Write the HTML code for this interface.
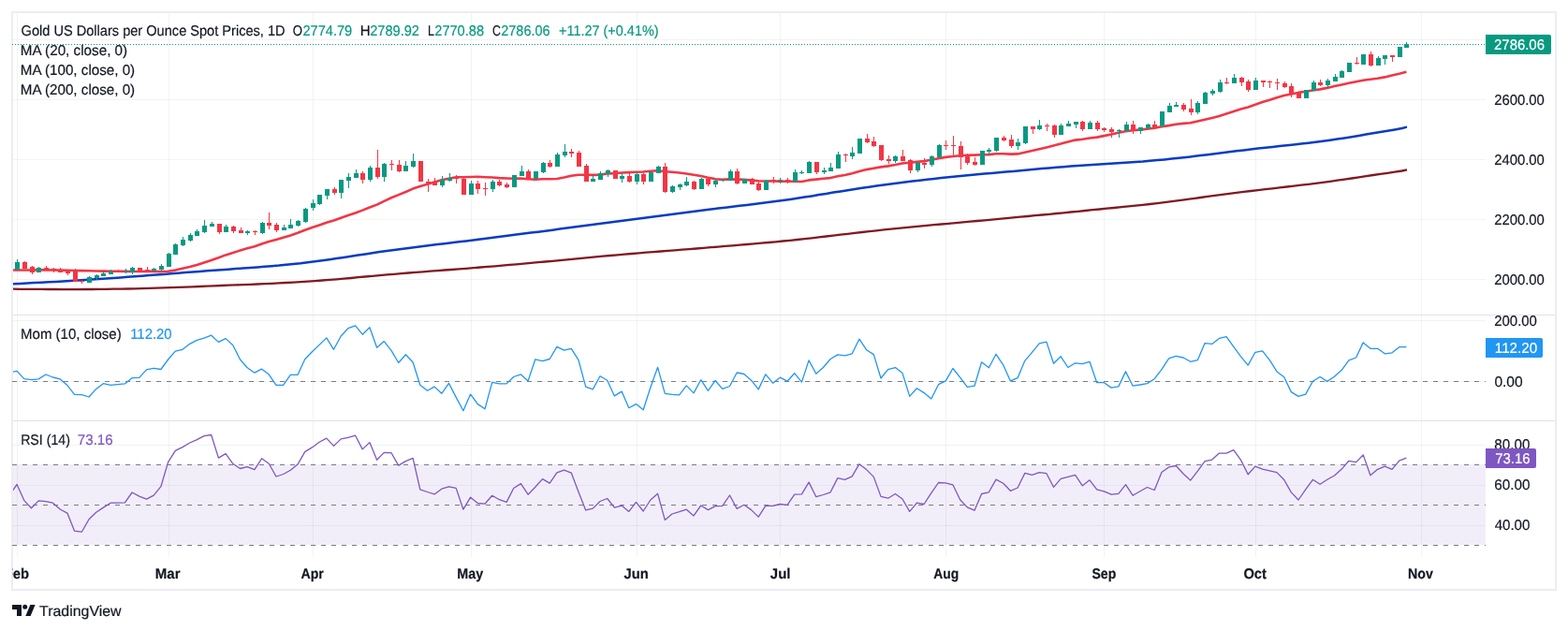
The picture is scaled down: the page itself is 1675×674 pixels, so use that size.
<!DOCTYPE html>
<html><head><meta charset="utf-8"><title>Gold chart</title>
<style>html,body{margin:0;padding:0;background:#fff;width:1675px;height:674px;overflow:hidden}</style></head>
<body>
<svg width="1675" height="674" viewBox="0 0 1675 674" style="position:absolute;left:0;top:0;font-family:'Liberation Sans',sans-serif" text-rendering="geometricPrecision">
<rect x="0" y="0" width="1675" height="674" fill="#fff"/>
<rect x="13" y="496" width="1574" height="86" fill="#7e57c2" fill-opacity="0.1"/>
<g shape-rendering="crispEdges" stroke="rgba(42,46,57,0.06)" stroke-width="1">
<line x1="18.5" y1="13" x2="18.5" y2="595"/>
<line x1="180.5" y1="13" x2="180.5" y2="595"/>
<line x1="334.5" y1="13" x2="334.5" y2="595"/>
<line x1="503.5" y1="13" x2="503.5" y2="595"/>
<line x1="680.5" y1="13" x2="680.5" y2="595"/>
<line x1="833.5" y1="13" x2="833.5" y2="595"/>
<line x1="1010.5" y1="13" x2="1010.5" y2="595"/>
<line x1="1179.5" y1="13" x2="1179.5" y2="595"/>
<line x1="1341.5" y1="13" x2="1341.5" y2="595"/>
<line x1="1518.5" y1="13" x2="1518.5" y2="595"/>
<line x1="13" y1="42.5" x2="1587" y2="42.5"/>
<line x1="13" y1="106.5" x2="1587" y2="106.5"/>
<line x1="13" y1="170.5" x2="1587" y2="170.5"/>
<line x1="13" y1="234.5" x2="1587" y2="234.5"/>
<line x1="13" y1="298.5" x2="1587" y2="298.5"/>
<line x1="13" y1="342.5" x2="1587" y2="342.5"/>
<line x1="13" y1="407.5" x2="1587" y2="407.5"/>
<line x1="13" y1="475.5" x2="1587" y2="475.5"/>
<line x1="13" y1="518.5" x2="1587" y2="518.5"/>
<line x1="13" y1="561.5" x2="1587" y2="561.5"/>
</g>
<g shape-rendering="crispEdges" stroke="#e0e3eb" stroke-width="1" fill="none">
<line x1="13" y1="336.5" x2="1662" y2="336.5"/>
<line x1="13" y1="449.5" x2="1662" y2="449.5"/>
<rect x="13" y="13" width="1649" height="617" stroke="#ecedf2" stroke-width="2"/>
</g>
<g shape-rendering="crispEdges" stroke="#787b86" stroke-width="1" stroke-dasharray="5 6">
<line x1="13" y1="407.5" x2="1587" y2="407.5"/>
<line x1="13" y1="496.5" x2="1587" y2="496.5"/>
<line x1="13" y1="539.5" x2="1587" y2="539.5"/>
<line x1="13" y1="582.5" x2="1587" y2="582.5"/>
</g>
<line x1="13" y1="47.5" x2="1587" y2="47.5" stroke="#089981" stroke-width="1" stroke-dasharray="1 2" shape-rendering="crispEdges"/>
<clipPath id="cp"><rect x="14" y="14" width="1573" height="581"/></clipPath>
<g clip-path="url(#cp)">
<path d="M13.4 308.7 L21.1 308.8 L28.8 308.8 L36.5 308.9 L44.2 308.9 L51.9 309.0 L59.5 309.0 L67.2 309.1 L74.9 309.1 L82.6 309.1 L90.3 309.0 L98.0 309.0 L105.7 308.9 L113.4 308.8 L121.1 308.7 L128.8 308.6 L136.5 308.5 L144.1 308.3 L151.8 308.1 L159.5 307.9 L167.2 307.7 L174.9 307.4 L182.6 307.2 L190.3 306.9 L198.0 306.6 L205.7 306.3 L213.4 306.0 L221.0 305.7 L228.7 305.4 L236.4 305.0 L244.1 304.7 L251.8 304.4 L259.5 304.1 L267.2 303.8 L274.9 303.5 L282.6 303.1 L290.3 302.8 L298.0 302.4 L305.6 302.0 L313.3 301.6 L321.0 301.1 L328.7 300.6 L336.4 300.1 L344.1 299.5 L351.8 298.9 L359.5 298.3 L367.2 297.7 L374.9 297.0 L382.6 296.2 L390.2 295.5 L397.9 294.8 L405.6 294.1 L413.3 293.4 L421.0 292.8 L428.7 292.1 L436.4 291.5 L444.1 290.9 L451.8 290.3 L459.5 289.7 L467.2 289.1 L474.8 288.5 L482.5 288.0 L490.2 287.4 L497.9 286.8 L505.6 286.2 L513.3 285.5 L521.0 284.9 L528.7 284.3 L536.4 283.6 L544.1 282.9 L551.7 282.3 L559.4 281.6 L567.1 280.9 L574.8 280.2 L582.5 279.5 L590.2 278.8 L597.9 278.1 L605.6 277.3 L613.3 276.6 L621.0 275.9 L628.7 275.1 L636.3 274.4 L644.0 273.7 L651.7 273.0 L659.4 272.3 L667.1 271.6 L674.8 271.0 L682.5 270.4 L690.2 269.7 L697.9 269.1 L705.6 268.5 L713.3 267.9 L720.9 267.3 L728.6 266.7 L736.3 266.1 L744.0 265.5 L751.7 264.8 L759.4 264.2 L767.1 263.6 L774.8 262.9 L782.5 262.3 L790.2 261.7 L797.9 261.0 L805.5 260.3 L813.2 259.7 L820.9 259.0 L828.6 258.3 L836.3 257.5 L844.0 256.8 L851.7 256.0 L859.4 255.2 L867.1 254.3 L874.8 253.4 L882.4 252.5 L890.1 251.6 L897.8 250.7 L905.5 249.8 L913.2 248.9 L920.9 248.0 L928.6 247.1 L936.3 246.3 L944.0 245.4 L951.7 244.6 L959.4 243.8 L967.0 243.1 L974.7 242.3 L982.4 241.6 L990.1 240.9 L997.8 240.2 L1005.5 239.5 L1013.2 238.8 L1020.9 238.1 L1028.6 237.4 L1036.3 236.7 L1044.0 236.0 L1051.6 235.3 L1059.3 234.6 L1067.0 233.9 L1074.7 233.2 L1082.4 232.4 L1090.1 231.7 L1097.8 231.0 L1105.5 230.2 L1113.2 229.5 L1120.9 228.8 L1128.6 228.0 L1136.2 227.3 L1143.9 226.5 L1151.6 225.8 L1159.3 225.0 L1167.0 224.2 L1174.7 223.5 L1182.4 222.7 L1190.1 222.0 L1197.8 221.2 L1205.5 220.4 L1213.1 219.6 L1220.8 218.8 L1228.5 218.0 L1236.2 217.1 L1243.9 216.1 L1251.6 215.1 L1259.3 214.1 L1267.0 213.1 L1274.7 212.1 L1282.4 211.0 L1290.1 209.9 L1297.7 208.9 L1305.4 207.8 L1313.1 206.8 L1320.8 205.8 L1328.5 204.9 L1336.2 204.0 L1343.9 203.1 L1351.6 202.2 L1359.3 201.3 L1367.0 200.4 L1374.7 199.5 L1382.3 198.6 L1390.0 197.7 L1397.7 196.8 L1405.4 195.8 L1413.1 194.8 L1420.8 193.8 L1428.5 192.7 L1436.2 191.6 L1443.9 190.5 L1451.6 189.3 L1459.3 188.2 L1466.9 187.0 L1474.6 185.9 L1482.3 184.8 L1490.0 183.7 L1497.7 182.5 L1503.0 181.4" fill="none" stroke="#801922" stroke-width="2.3" stroke-linejoin="round"/>
<path d="M13.4 303.3 L21.1 302.9 L28.8 302.5 L36.5 302.1 L44.2 301.7 L51.9 301.3 L59.5 300.9 L67.2 300.4 L74.9 300.0 L82.6 299.5 L90.3 299.0 L98.0 298.5 L105.7 298.0 L113.4 297.5 L121.1 296.9 L128.8 296.4 L136.5 295.8 L144.1 295.2 L151.8 294.7 L159.5 294.1 L167.2 293.5 L174.9 292.9 L182.6 292.3 L190.3 291.7 L198.0 291.1 L205.7 290.5 L213.4 289.9 L221.0 289.3 L228.7 288.8 L236.4 288.2 L244.1 287.7 L251.8 287.1 L259.5 286.6 L267.2 286.0 L274.9 285.4 L282.6 284.8 L290.3 284.2 L298.0 283.6 L305.6 282.8 L313.3 282.0 L321.0 281.2 L328.7 280.2 L336.4 279.3 L344.1 278.3 L351.8 277.2 L359.5 276.1 L367.2 274.9 L374.9 273.8 L382.6 272.6 L390.2 271.4 L397.9 270.2 L405.6 269.1 L413.3 268.0 L421.0 267.0 L428.7 265.9 L436.4 264.9 L444.1 264.0 L451.8 263.0 L459.5 262.1 L467.2 261.1 L474.8 260.2 L482.5 259.3 L490.2 258.3 L497.9 257.4 L505.6 256.4 L513.3 255.5 L521.0 254.5 L528.7 253.5 L536.4 252.6 L544.1 251.6 L551.7 250.6 L559.4 249.6 L567.1 248.6 L574.8 247.7 L582.5 246.7 L590.2 245.7 L597.9 244.6 L605.6 243.6 L613.3 242.6 L621.0 241.6 L628.7 240.5 L636.3 239.5 L644.0 238.5 L651.7 237.4 L659.4 236.4 L667.1 235.4 L674.8 234.4 L682.5 233.4 L690.2 232.4 L697.9 231.4 L705.6 230.4 L713.3 229.4 L720.9 228.4 L728.6 227.5 L736.3 226.5 L744.0 225.5 L751.7 224.5 L759.4 223.6 L767.1 222.6 L774.8 221.7 L782.5 220.8 L790.2 219.8 L797.9 218.9 L805.5 218.0 L813.2 217.0 L820.9 216.0 L828.6 215.0 L836.3 214.0 L844.0 212.9 L851.7 211.7 L859.4 210.6 L867.1 209.4 L874.8 208.1 L882.4 206.9 L890.1 205.6 L897.8 204.4 L905.5 203.2 L913.2 202.0 L920.9 200.8 L928.6 199.7 L936.3 198.6 L944.0 197.5 L951.7 196.5 L959.4 195.5 L967.0 194.5 L974.7 193.6 L982.4 192.7 L990.1 191.8 L997.8 190.9 L1005.5 190.1 L1013.2 189.3 L1020.9 188.5 L1028.6 187.7 L1036.3 187.0 L1044.0 186.3 L1051.6 185.6 L1059.3 184.9 L1067.0 184.2 L1074.7 183.6 L1082.4 182.9 L1090.1 182.2 L1097.8 181.5 L1105.5 180.8 L1113.2 180.1 L1120.9 179.4 L1128.6 178.8 L1136.2 178.2 L1143.9 177.6 L1151.6 177.0 L1159.3 176.5 L1167.0 176.0 L1174.7 175.5 L1182.4 175.1 L1190.1 174.6 L1197.8 174.1 L1205.5 173.6 L1213.1 173.0 L1220.8 172.5 L1228.5 171.8 L1236.2 171.1 L1243.9 170.4 L1251.6 169.6 L1259.3 168.8 L1267.0 168.0 L1274.7 167.1 L1282.4 166.1 L1290.1 165.2 L1297.7 164.2 L1305.4 163.2 L1313.1 162.3 L1320.8 161.3 L1328.5 160.4 L1336.2 159.5 L1343.9 158.6 L1351.6 157.8 L1359.3 157.0 L1367.0 156.1 L1374.7 155.3 L1382.3 154.4 L1390.0 153.6 L1397.7 152.7 L1405.4 151.7 L1413.1 150.7 L1420.8 149.7 L1428.5 148.6 L1436.2 147.4 L1443.9 146.2 L1451.6 144.9 L1459.3 143.6 L1466.9 142.3 L1474.6 141.0 L1482.3 139.7 L1490.0 138.4 L1497.7 137.0 L1503.0 135.6" fill="none" stroke="#0a3cc2" stroke-width="2.5" stroke-linejoin="round"/>
<path d="M13.0 288.5 L18.1 288.5 L25.8 288.5 L33.5 288.5 L41.2 288.4 L48.9 288.4 L56.5 288.5 L64.2 288.6 L71.9 288.8 L79.6 289.0 L87.3 289.1 L95.0 289.3 L102.7 289.5 L110.4 289.6 L118.1 289.7 L125.8 289.8 L133.4 289.9 L141.1 290.0 L148.8 290.0 L156.5 289.9 L164.2 289.9 L171.9 290.1 L179.6 289.8 L187.3 288.6 L195.0 286.8 L202.7 285.0 L210.4 283.0 L218.0 280.5 L225.7 277.9 L233.4 275.3 L241.1 272.4 L248.8 269.9 L256.5 267.6 L264.2 265.3 L271.9 263.2 L279.6 260.6 L287.3 258.1 L295.0 256.1 L302.6 253.8 L310.3 251.4 L318.0 248.8 L325.7 245.8 L333.4 243.1 L341.1 240.5 L348.8 237.8 L356.5 235.5 L364.2 232.7 L371.9 230.1 L379.6 227.4 L387.2 224.6 L394.9 221.5 L402.6 218.6 L410.3 214.9 L418.0 211.3 L425.7 208.1 L433.4 205.0 L441.1 201.6 L448.8 199.0 L456.5 196.7 L464.1 194.5 L471.8 192.3 L479.5 190.7 L487.2 189.3 L494.9 189.2 L502.6 189.0 L510.3 188.8 L518.0 189.2 L525.7 189.5 L533.4 190.1 L541.1 190.5 L548.7 190.8 L556.4 190.6 L564.1 191.3 L571.8 191.8 L579.5 191.3 L587.2 191.3 L594.9 191.0 L602.6 189.5 L610.3 187.8 L618.0 186.8 L625.7 186.8 L633.3 186.9 L641.0 186.7 L648.7 185.4 L656.4 185.1 L664.1 184.5 L671.8 184.1 L679.5 183.7 L687.2 183.5 L694.9 182.7 L702.6 182.2 L710.3 183.3 L717.9 183.8 L725.6 184.5 L733.3 185.5 L741.0 186.7 L748.7 188.0 L756.4 189.7 L764.1 191.2 L771.8 191.9 L779.5 191.4 L787.2 191.6 L794.8 191.9 L802.5 192.6 L810.2 193.2 L817.9 193.5 L825.6 193.4 L833.3 193.7 L841.0 193.7 L848.7 193.7 L856.4 194.0 L864.1 192.4 L871.8 191.6 L879.4 190.8 L887.1 190.1 L894.8 188.3 L902.5 187.0 L910.2 185.3 L917.9 183.1 L925.6 181.1 L933.3 179.7 L941.0 178.4 L948.7 177.4 L956.4 176.0 L964.0 174.4 L971.7 173.8 L979.4 172.9 L987.1 172.1 L994.8 170.8 L1002.5 169.3 L1010.2 167.9 L1017.9 167.0 L1025.6 166.2 L1033.3 165.8 L1041.0 165.6 L1048.6 165.3 L1056.3 165.1 L1064.0 164.3 L1071.7 164.3 L1079.4 164.6 L1087.1 164.4 L1094.8 162.7 L1102.5 161.0 L1110.2 159.3 L1117.9 157.5 L1125.5 155.6 L1133.2 153.6 L1140.9 151.4 L1148.6 149.6 L1156.3 148.7 L1164.0 147.5 L1171.7 146.6 L1179.4 145.1 L1187.1 143.5 L1194.8 141.7 L1202.5 140.2 L1210.1 139.2 L1217.8 138.6 L1225.5 137.8 L1233.2 136.8 L1240.9 135.2 L1248.6 134.1 L1256.3 132.8 L1264.0 131.9 L1271.7 131.2 L1279.4 129.5 L1287.1 127.8 L1294.7 126.0 L1302.4 123.9 L1310.1 121.5 L1317.8 119.1 L1325.5 116.6 L1333.2 114.4 L1340.9 111.7 L1348.6 109.1 L1356.3 106.8 L1364.0 104.3 L1371.7 102.1 L1379.3 100.5 L1387.0 98.9 L1394.7 97.8 L1402.4 96.5 L1410.1 95.4 L1417.8 93.9 L1425.5 92.1 L1433.2 90.4 L1440.9 88.8 L1448.6 87.2 L1456.2 85.8 L1463.9 84.8 L1471.6 83.8 L1479.3 82.4 L1487.0 80.6 L1494.7 78.8 L1502.4 76.8" fill="none" stroke="#f23645" stroke-width="2.6" stroke-linejoin="round"/>
<g shape-rendering="crispEdges">
<rect x="18" y="277" width="1" height="11" fill="#089981"/>
<rect x="16" y="280" width="5" height="8" fill="#089981"/>
<rect x="26" y="279" width="1" height="8" fill="#f23645"/>
<rect x="24" y="280" width="5" height="7" fill="#f23645"/>
<rect x="34" y="284" width="1" height="9" fill="#f23645"/>
<rect x="32" y="285" width="5" height="6" fill="#f23645"/>
<rect x="41" y="285" width="1" height="6" fill="#089981"/>
<rect x="39" y="286" width="5" height="5" fill="#089981"/>
<rect x="49" y="284" width="1" height="4" fill="#f23645"/>
<rect x="47" y="286" width="5" height="2" fill="#f23645"/>
<rect x="57" y="286" width="1" height="5" fill="#f23645"/>
<rect x="55" y="287" width="5" height="1" fill="#f23645"/>
<rect x="64" y="286" width="1" height="5" fill="#f23645"/>
<rect x="62" y="288" width="5" height="3" fill="#f23645"/>
<rect x="72" y="289" width="1" height="5" fill="#f23645"/>
<rect x="70" y="289" width="5" height="3" fill="#f23645"/>
<rect x="80" y="287" width="1" height="14" fill="#f23645"/>
<rect x="78" y="290" width="5" height="11" fill="#f23645"/>
<rect x="87" y="299" width="1" height="4" fill="#f23645"/>
<rect x="85" y="300" width="5" height="1" fill="#f23645"/>
<rect x="95" y="295" width="1" height="7" fill="#089981"/>
<rect x="93" y="296" width="5" height="6" fill="#089981"/>
<rect x="103" y="293" width="1" height="6" fill="#089981"/>
<rect x="101" y="294" width="5" height="3" fill="#089981"/>
<rect x="110" y="291" width="1" height="4" fill="#089981"/>
<rect x="108" y="292" width="5" height="3" fill="#089981"/>
<rect x="118" y="288" width="1" height="5" fill="#089981"/>
<rect x="116" y="290" width="5" height="3" fill="#089981"/>
<rect x="126" y="288" width="1" height="2" fill="#f23645"/>
<rect x="124" y="289" width="5" height="1" fill="#f23645"/>
<rect x="134" y="287" width="1" height="5" fill="#089981"/>
<rect x="132" y="290" width="5" height="1" fill="#089981"/>
<rect x="141" y="285" width="1" height="8" fill="#089981"/>
<rect x="139" y="286" width="5" height="5" fill="#089981"/>
<rect x="149" y="286" width="1" height="4" fill="#f23645"/>
<rect x="147" y="286" width="5" height="4" fill="#f23645"/>
<rect x="157" y="285" width="1" height="4" fill="#f23645"/>
<rect x="155" y="288" width="5" height="1" fill="#f23645"/>
<rect x="164" y="286" width="1" height="4" fill="#089981"/>
<rect x="162" y="287" width="5" height="2" fill="#089981"/>
<rect x="172" y="282" width="1" height="7" fill="#089981"/>
<rect x="170" y="284" width="5" height="4" fill="#089981"/>
<rect x="180" y="270" width="1" height="15" fill="#089981"/>
<rect x="178" y="271" width="5" height="14" fill="#089981"/>
<rect x="187" y="260" width="1" height="12" fill="#089981"/>
<rect x="185" y="261" width="5" height="11" fill="#089981"/>
<rect x="195" y="253" width="1" height="10" fill="#089981"/>
<rect x="193" y="256" width="5" height="6" fill="#089981"/>
<rect x="203" y="249" width="1" height="9" fill="#089981"/>
<rect x="201" y="251" width="5" height="6" fill="#089981"/>
<rect x="210" y="245" width="1" height="7" fill="#089981"/>
<rect x="208" y="247" width="5" height="5" fill="#089981"/>
<rect x="218" y="235" width="1" height="14" fill="#089981"/>
<rect x="216" y="241" width="5" height="7" fill="#089981"/>
<rect x="226" y="237" width="1" height="5" fill="#089981"/>
<rect x="224" y="239" width="5" height="3" fill="#089981"/>
<rect x="234" y="239" width="1" height="11" fill="#f23645"/>
<rect x="232" y="239" width="5" height="9" fill="#f23645"/>
<rect x="241" y="240" width="1" height="8" fill="#089981"/>
<rect x="239" y="242" width="5" height="6" fill="#089981"/>
<rect x="249" y="241" width="1" height="8" fill="#f23645"/>
<rect x="247" y="242" width="5" height="5" fill="#f23645"/>
<rect x="257" y="243" width="1" height="6" fill="#f23645"/>
<rect x="255" y="246" width="5" height="3" fill="#f23645"/>
<rect x="264" y="246" width="1" height="5" fill="#089981"/>
<rect x="262" y="247" width="5" height="2" fill="#089981"/>
<rect x="272" y="246" width="1" height="5" fill="#f23645"/>
<rect x="270" y="247" width="5" height="1" fill="#f23645"/>
<rect x="280" y="237" width="1" height="13" fill="#089981"/>
<rect x="278" y="238" width="5" height="11" fill="#089981"/>
<rect x="287" y="227" width="1" height="18" fill="#f23645"/>
<rect x="285" y="238" width="5" height="3" fill="#f23645"/>
<rect x="295" y="238" width="1" height="10" fill="#f23645"/>
<rect x="293" y="240" width="5" height="6" fill="#f23645"/>
<rect x="303" y="240" width="1" height="6" fill="#089981"/>
<rect x="301" y="243" width="5" height="3" fill="#089981"/>
<rect x="310" y="234" width="1" height="10" fill="#089981"/>
<rect x="308" y="240" width="5" height="4" fill="#089981"/>
<rect x="318" y="235" width="1" height="7" fill="#089981"/>
<rect x="316" y="236" width="5" height="5" fill="#089981"/>
<rect x="326" y="222" width="1" height="16" fill="#089981"/>
<rect x="324" y="223" width="5" height="14" fill="#089981"/>
<rect x="334" y="213" width="1" height="12" fill="#089981"/>
<rect x="332" y="217" width="5" height="5" fill="#089981"/>
<rect x="341" y="208" width="1" height="11" fill="#089981"/>
<rect x="339" y="208" width="5" height="10" fill="#089981"/>
<rect x="349" y="202" width="1" height="11" fill="#089981"/>
<rect x="347" y="202" width="5" height="7" fill="#089981"/>
<rect x="357" y="200" width="1" height="8" fill="#f23645"/>
<rect x="355" y="202" width="5" height="4" fill="#f23645"/>
<rect x="364" y="192" width="1" height="20" fill="#089981"/>
<rect x="362" y="192" width="5" height="14" fill="#089981"/>
<rect x="372" y="185" width="1" height="16" fill="#089981"/>
<rect x="370" y="189" width="5" height="4" fill="#089981"/>
<rect x="380" y="181" width="1" height="9" fill="#089981"/>
<rect x="378" y="185" width="5" height="5" fill="#089981"/>
<rect x="387" y="183" width="1" height="13" fill="#f23645"/>
<rect x="385" y="185" width="5" height="7" fill="#f23645"/>
<rect x="395" y="177" width="1" height="17" fill="#089981"/>
<rect x="393" y="179" width="5" height="13" fill="#089981"/>
<rect x="403" y="160" width="1" height="31" fill="#f23645"/>
<rect x="401" y="179" width="5" height="10" fill="#f23645"/>
<rect x="410" y="174" width="1" height="20" fill="#089981"/>
<rect x="408" y="175" width="5" height="14" fill="#089981"/>
<rect x="418" y="171" width="1" height="11" fill="#f23645"/>
<rect x="416" y="175" width="5" height="1" fill="#f23645"/>
<rect x="426" y="171" width="1" height="13" fill="#f23645"/>
<rect x="424" y="176" width="5" height="7" fill="#f23645"/>
<rect x="433" y="172" width="1" height="11" fill="#089981"/>
<rect x="431" y="177" width="5" height="6" fill="#089981"/>
<rect x="441" y="164" width="1" height="15" fill="#089981"/>
<rect x="439" y="172" width="5" height="6" fill="#089981"/>
<rect x="449" y="172" width="1" height="22" fill="#f23645"/>
<rect x="447" y="172" width="5" height="22" fill="#f23645"/>
<rect x="457" y="191" width="1" height="14" fill="#f23645"/>
<rect x="455" y="194" width="5" height="3" fill="#f23645"/>
<rect x="464" y="190" width="1" height="8" fill="#f23645"/>
<rect x="462" y="194" width="5" height="4" fill="#f23645"/>
<rect x="472" y="188" width="1" height="12" fill="#089981"/>
<rect x="470" y="192" width="5" height="6" fill="#089981"/>
<rect x="480" y="185" width="1" height="9" fill="#089981"/>
<rect x="478" y="190" width="5" height="3" fill="#089981"/>
<rect x="487" y="187" width="1" height="9" fill="#f23645"/>
<rect x="485" y="189" width="5" height="2" fill="#f23645"/>
<rect x="495" y="190" width="1" height="18" fill="#f23645"/>
<rect x="493" y="191" width="5" height="17" fill="#f23645"/>
<rect x="503" y="193" width="1" height="15" fill="#089981"/>
<rect x="501" y="196" width="5" height="12" fill="#089981"/>
<rect x="510" y="193" width="1" height="14" fill="#f23645"/>
<rect x="508" y="196" width="5" height="6" fill="#f23645"/>
<rect x="518" y="195" width="1" height="14" fill="#f23645"/>
<rect x="516" y="201" width="5" height="1" fill="#f23645"/>
<rect x="526" y="192" width="1" height="13" fill="#089981"/>
<rect x="524" y="194" width="5" height="8" fill="#089981"/>
<rect x="533" y="192" width="1" height="7" fill="#f23645"/>
<rect x="531" y="194" width="5" height="4" fill="#f23645"/>
<rect x="541" y="195" width="1" height="6" fill="#f23645"/>
<rect x="539" y="197" width="5" height="3" fill="#f23645"/>
<rect x="549" y="187" width="1" height="13" fill="#089981"/>
<rect x="547" y="187" width="5" height="13" fill="#089981"/>
<rect x="557" y="177" width="1" height="11" fill="#089981"/>
<rect x="555" y="183" width="5" height="5" fill="#089981"/>
<rect x="564" y="181" width="1" height="10" fill="#f23645"/>
<rect x="562" y="183" width="5" height="8" fill="#f23645"/>
<rect x="572" y="183" width="1" height="8" fill="#089981"/>
<rect x="570" y="183" width="5" height="8" fill="#089981"/>
<rect x="580" y="173" width="1" height="12" fill="#089981"/>
<rect x="578" y="174" width="5" height="10" fill="#089981"/>
<rect x="587" y="171" width="1" height="8" fill="#f23645"/>
<rect x="585" y="174" width="5" height="4" fill="#f23645"/>
<rect x="595" y="163" width="1" height="15" fill="#089981"/>
<rect x="593" y="165" width="5" height="13" fill="#089981"/>
<rect x="603" y="154" width="1" height="14" fill="#089981"/>
<rect x="601" y="162" width="5" height="4" fill="#089981"/>
<rect x="610" y="159" width="1" height="9" fill="#f23645"/>
<rect x="608" y="162" width="5" height="2" fill="#f23645"/>
<rect x="618" y="161" width="1" height="17" fill="#f23645"/>
<rect x="616" y="163" width="5" height="15" fill="#f23645"/>
<rect x="626" y="175" width="1" height="19" fill="#f23645"/>
<rect x="624" y="177" width="5" height="17" fill="#f23645"/>
<rect x="633" y="187" width="1" height="7" fill="#089981"/>
<rect x="631" y="191" width="5" height="3" fill="#089981"/>
<rect x="641" y="183" width="1" height="9" fill="#089981"/>
<rect x="639" y="185" width="5" height="7" fill="#089981"/>
<rect x="649" y="181" width="1" height="8" fill="#089981"/>
<rect x="647" y="182" width="5" height="4" fill="#089981"/>
<rect x="657" y="182" width="1" height="9" fill="#f23645"/>
<rect x="655" y="182" width="5" height="9" fill="#f23645"/>
<rect x="664" y="185" width="1" height="10" fill="#089981"/>
<rect x="662" y="188" width="5" height="3" fill="#089981"/>
<rect x="672" y="185" width="1" height="10" fill="#f23645"/>
<rect x="670" y="188" width="5" height="6" fill="#f23645"/>
<rect x="680" y="184" width="1" height="13" fill="#089981"/>
<rect x="678" y="186" width="5" height="8" fill="#089981"/>
<rect x="687" y="185" width="1" height="12" fill="#f23645"/>
<rect x="685" y="186" width="5" height="8" fill="#f23645"/>
<rect x="695" y="184" width="1" height="10" fill="#089981"/>
<rect x="693" y="184" width="5" height="10" fill="#089981"/>
<rect x="703" y="177" width="1" height="8" fill="#089981"/>
<rect x="701" y="178" width="5" height="7" fill="#089981"/>
<rect x="710" y="174" width="1" height="32" fill="#f23645"/>
<rect x="708" y="178" width="5" height="27" fill="#f23645"/>
<rect x="718" y="198" width="1" height="8" fill="#089981"/>
<rect x="716" y="199" width="5" height="6" fill="#089981"/>
<rect x="726" y="196" width="1" height="7" fill="#089981"/>
<rect x="724" y="197" width="5" height="3" fill="#089981"/>
<rect x="733" y="189" width="1" height="10" fill="#089981"/>
<rect x="731" y="194" width="5" height="4" fill="#089981"/>
<rect x="741" y="193" width="1" height="10" fill="#f23645"/>
<rect x="739" y="194" width="5" height="8" fill="#f23645"/>
<rect x="749" y="190" width="1" height="12" fill="#089981"/>
<rect x="747" y="191" width="5" height="11" fill="#089981"/>
<rect x="756" y="191" width="1" height="8" fill="#f23645"/>
<rect x="754" y="191" width="5" height="6" fill="#f23645"/>
<rect x="764" y="191" width="1" height="9" fill="#089981"/>
<rect x="762" y="193" width="5" height="4" fill="#089981"/>
<rect x="772" y="191" width="1" height="3" fill="#089981"/>
<rect x="770" y="192" width="5" height="1" fill="#089981"/>
<rect x="780" y="181" width="1" height="12" fill="#089981"/>
<rect x="778" y="183" width="5" height="10" fill="#089981"/>
<rect x="787" y="180" width="1" height="17" fill="#f23645"/>
<rect x="785" y="183" width="5" height="13" fill="#f23645"/>
<rect x="795" y="191" width="1" height="5" fill="#089981"/>
<rect x="793" y="191" width="5" height="5" fill="#089981"/>
<rect x="803" y="190" width="1" height="7" fill="#f23645"/>
<rect x="801" y="191" width="5" height="6" fill="#f23645"/>
<rect x="810" y="194" width="1" height="10" fill="#f23645"/>
<rect x="808" y="196" width="5" height="7" fill="#f23645"/>
<rect x="818" y="192" width="1" height="11" fill="#089981"/>
<rect x="816" y="193" width="5" height="10" fill="#089981"/>
<rect x="826" y="189" width="1" height="7" fill="#f23645"/>
<rect x="824" y="192" width="5" height="1" fill="#f23645"/>
<rect x="833" y="190" width="1" height="6" fill="#089981"/>
<rect x="831" y="192" width="5" height="1" fill="#089981"/>
<rect x="841" y="190" width="1" height="6" fill="#f23645"/>
<rect x="839" y="192" width="5" height="1" fill="#f23645"/>
<rect x="849" y="181" width="1" height="13" fill="#089981"/>
<rect x="847" y="184" width="5" height="10" fill="#089981"/>
<rect x="856" y="182" width="1" height="4" fill="#089981"/>
<rect x="854" y="184" width="5" height="1" fill="#089981"/>
<rect x="864" y="172" width="1" height="13" fill="#089981"/>
<rect x="862" y="173" width="5" height="12" fill="#089981"/>
<rect x="872" y="173" width="1" height="13" fill="#f23645"/>
<rect x="870" y="173" width="5" height="11" fill="#f23645"/>
<rect x="880" y="179" width="1" height="7" fill="#089981"/>
<rect x="878" y="182" width="5" height="2" fill="#089981"/>
<rect x="887" y="174" width="1" height="9" fill="#089981"/>
<rect x="885" y="179" width="5" height="4" fill="#089981"/>
<rect x="895" y="162" width="1" height="18" fill="#089981"/>
<rect x="893" y="165" width="5" height="15" fill="#089981"/>
<rect x="903" y="164" width="1" height="9" fill="#f23645"/>
<rect x="901" y="165" width="5" height="1" fill="#f23645"/>
<rect x="910" y="157" width="1" height="13" fill="#089981"/>
<rect x="908" y="163" width="5" height="4" fill="#089981"/>
<rect x="918" y="148" width="1" height="16" fill="#089981"/>
<rect x="916" y="148" width="5" height="16" fill="#089981"/>
<rect x="926" y="143" width="1" height="10" fill="#f23645"/>
<rect x="924" y="148" width="5" height="4" fill="#f23645"/>
<rect x="933" y="146" width="1" height="11" fill="#f23645"/>
<rect x="931" y="151" width="5" height="5" fill="#f23645"/>
<rect x="941" y="155" width="1" height="17" fill="#f23645"/>
<rect x="939" y="155" width="5" height="16" fill="#f23645"/>
<rect x="949" y="166" width="1" height="9" fill="#f23645"/>
<rect x="947" y="170" width="5" height="2" fill="#f23645"/>
<rect x="956" y="166" width="1" height="8" fill="#089981"/>
<rect x="954" y="167" width="5" height="5" fill="#089981"/>
<rect x="964" y="160" width="1" height="12" fill="#f23645"/>
<rect x="962" y="167" width="5" height="5" fill="#f23645"/>
<rect x="972" y="170" width="1" height="15" fill="#f23645"/>
<rect x="970" y="171" width="5" height="11" fill="#f23645"/>
<rect x="980" y="173" width="1" height="11" fill="#089981"/>
<rect x="978" y="174" width="5" height="8" fill="#089981"/>
<rect x="987" y="169" width="1" height="11" fill="#f23645"/>
<rect x="985" y="174" width="5" height="2" fill="#f23645"/>
<rect x="995" y="166" width="1" height="12" fill="#089981"/>
<rect x="993" y="167" width="5" height="9" fill="#089981"/>
<rect x="1003" y="154" width="1" height="15" fill="#089981"/>
<rect x="1001" y="155" width="5" height="13" fill="#089981"/>
<rect x="1010" y="150" width="1" height="10" fill="#f23645"/>
<rect x="1008" y="155" width="5" height="1" fill="#f23645"/>
<rect x="1018" y="145" width="1" height="21" fill="#f23645"/>
<rect x="1016" y="155" width="5" height="1" fill="#f23645"/>
<rect x="1026" y="151" width="1" height="30" fill="#f23645"/>
<rect x="1024" y="156" width="5" height="12" fill="#f23645"/>
<rect x="1033" y="164" width="1" height="12" fill="#f23645"/>
<rect x="1031" y="167" width="5" height="7" fill="#f23645"/>
<rect x="1041" y="168" width="1" height="9" fill="#f23645"/>
<rect x="1039" y="173" width="5" height="3" fill="#f23645"/>
<rect x="1049" y="161" width="1" height="15" fill="#089981"/>
<rect x="1047" y="161" width="5" height="15" fill="#089981"/>
<rect x="1056" y="158" width="1" height="7" fill="#089981"/>
<rect x="1054" y="160" width="5" height="2" fill="#089981"/>
<rect x="1064" y="147" width="1" height="15" fill="#089981"/>
<rect x="1062" y="147" width="5" height="14" fill="#089981"/>
<rect x="1072" y="145" width="1" height="6" fill="#f23645"/>
<rect x="1070" y="147" width="5" height="3" fill="#f23645"/>
<rect x="1080" y="144" width="1" height="14" fill="#f23645"/>
<rect x="1078" y="149" width="5" height="7" fill="#f23645"/>
<rect x="1087" y="148" width="1" height="12" fill="#089981"/>
<rect x="1085" y="152" width="5" height="4" fill="#089981"/>
<rect x="1095" y="135" width="1" height="19" fill="#089981"/>
<rect x="1093" y="135" width="5" height="18" fill="#089981"/>
<rect x="1103" y="135" width="1" height="8" fill="#f23645"/>
<rect x="1101" y="135" width="5" height="3" fill="#f23645"/>
<rect x="1110" y="128" width="1" height="11" fill="#089981"/>
<rect x="1108" y="134" width="5" height="4" fill="#089981"/>
<rect x="1118" y="132" width="1" height="8" fill="#f23645"/>
<rect x="1116" y="134" width="5" height="1" fill="#f23645"/>
<rect x="1126" y="133" width="1" height="14" fill="#f23645"/>
<rect x="1124" y="134" width="5" height="10" fill="#f23645"/>
<rect x="1133" y="132" width="1" height="12" fill="#089981"/>
<rect x="1131" y="134" width="5" height="10" fill="#089981"/>
<rect x="1141" y="129" width="1" height="6" fill="#089981"/>
<rect x="1139" y="132" width="5" height="3" fill="#089981"/>
<rect x="1149" y="130" width="1" height="7" fill="#089981"/>
<rect x="1147" y="130" width="5" height="3" fill="#089981"/>
<rect x="1156" y="129" width="1" height="11" fill="#f23645"/>
<rect x="1154" y="130" width="5" height="8" fill="#f23645"/>
<rect x="1164" y="129" width="1" height="9" fill="#089981"/>
<rect x="1162" y="131" width="5" height="7" fill="#089981"/>
<rect x="1172" y="129" width="1" height="11" fill="#f23645"/>
<rect x="1170" y="131" width="5" height="7" fill="#f23645"/>
<rect x="1179" y="136" width="1" height="5" fill="#f23645"/>
<rect x="1177" y="137" width="5" height="2" fill="#f23645"/>
<rect x="1187" y="136" width="1" height="11" fill="#f23645"/>
<rect x="1185" y="138" width="5" height="3" fill="#f23645"/>
<rect x="1195" y="138" width="1" height="9" fill="#089981"/>
<rect x="1193" y="139" width="5" height="1" fill="#089981"/>
<rect x="1203" y="130" width="1" height="10" fill="#089981"/>
<rect x="1201" y="133" width="5" height="7" fill="#089981"/>
<rect x="1210" y="129" width="1" height="14" fill="#f23645"/>
<rect x="1208" y="133" width="5" height="6" fill="#f23645"/>
<rect x="1218" y="136" width="1" height="7" fill="#089981"/>
<rect x="1216" y="136" width="5" height="4" fill="#089981"/>
<rect x="1226" y="132" width="1" height="6" fill="#089981"/>
<rect x="1224" y="133" width="5" height="4" fill="#089981"/>
<rect x="1233" y="129" width="1" height="9" fill="#f23645"/>
<rect x="1231" y="133" width="5" height="3" fill="#f23645"/>
<rect x="1241" y="119" width="1" height="16" fill="#089981"/>
<rect x="1239" y="119" width="5" height="16" fill="#089981"/>
<rect x="1249" y="110" width="1" height="10" fill="#089981"/>
<rect x="1247" y="113" width="5" height="7" fill="#089981"/>
<rect x="1256" y="109" width="1" height="5" fill="#089981"/>
<rect x="1254" y="112" width="5" height="2" fill="#089981"/>
<rect x="1264" y="110" width="1" height="9" fill="#f23645"/>
<rect x="1262" y="112" width="5" height="5" fill="#f23645"/>
<rect x="1272" y="106" width="1" height="17" fill="#f23645"/>
<rect x="1270" y="116" width="5" height="4" fill="#f23645"/>
<rect x="1279" y="108" width="1" height="14" fill="#089981"/>
<rect x="1277" y="110" width="5" height="10" fill="#089981"/>
<rect x="1287" y="98" width="1" height="13" fill="#089981"/>
<rect x="1285" y="99" width="5" height="12" fill="#089981"/>
<rect x="1295" y="95" width="1" height="7" fill="#089981"/>
<rect x="1293" y="97" width="5" height="3" fill="#089981"/>
<rect x="1303" y="85" width="1" height="14" fill="#089981"/>
<rect x="1301" y="88" width="5" height="10" fill="#089981"/>
<rect x="1310" y="83" width="1" height="7" fill="#f23645"/>
<rect x="1308" y="88" width="5" height="1" fill="#f23645"/>
<rect x="1318" y="79" width="1" height="10" fill="#089981"/>
<rect x="1316" y="83" width="5" height="6" fill="#089981"/>
<rect x="1326" y="82" width="1" height="10" fill="#f23645"/>
<rect x="1324" y="83" width="5" height="5" fill="#f23645"/>
<rect x="1333" y="85" width="1" height="13" fill="#f23645"/>
<rect x="1331" y="87" width="5" height="9" fill="#f23645"/>
<rect x="1341" y="83" width="1" height="13" fill="#089981"/>
<rect x="1339" y="86" width="5" height="10" fill="#089981"/>
<rect x="1349" y="86" width="1" height="7" fill="#f23645"/>
<rect x="1347" y="86" width="5" height="2" fill="#f23645"/>
<rect x="1356" y="86" width="1" height="8" fill="#f23645"/>
<rect x="1354" y="87" width="5" height="1" fill="#f23645"/>
<rect x="1364" y="84" width="1" height="12" fill="#f23645"/>
<rect x="1362" y="88" width="5" height="1" fill="#f23645"/>
<rect x="1372" y="87" width="1" height="7" fill="#f23645"/>
<rect x="1370" y="89" width="5" height="4" fill="#f23645"/>
<rect x="1379" y="89" width="1" height="15" fill="#f23645"/>
<rect x="1377" y="92" width="5" height="9" fill="#f23645"/>
<rect x="1387" y="98" width="1" height="7" fill="#f23645"/>
<rect x="1385" y="98" width="5" height="7" fill="#f23645"/>
<rect x="1395" y="96" width="1" height="9" fill="#089981"/>
<rect x="1393" y="96" width="5" height="9" fill="#089981"/>
<rect x="1403" y="86" width="1" height="11" fill="#089981"/>
<rect x="1401" y="88" width="5" height="9" fill="#089981"/>
<rect x="1410" y="85" width="1" height="7" fill="#f23645"/>
<rect x="1408" y="88" width="5" height="3" fill="#f23645"/>
<rect x="1418" y="84" width="1" height="10" fill="#089981"/>
<rect x="1416" y="86" width="5" height="5" fill="#089981"/>
<rect x="1426" y="79" width="1" height="8" fill="#089981"/>
<rect x="1424" y="82" width="5" height="5" fill="#089981"/>
<rect x="1433" y="75" width="1" height="8" fill="#089981"/>
<rect x="1431" y="76" width="5" height="7" fill="#089981"/>
<rect x="1441" y="67" width="1" height="10" fill="#089981"/>
<rect x="1439" y="67" width="5" height="10" fill="#089981"/>
<rect x="1449" y="61" width="1" height="8" fill="#f23645"/>
<rect x="1447" y="67" width="5" height="1" fill="#f23645"/>
<rect x="1456" y="58" width="1" height="11" fill="#089981"/>
<rect x="1454" y="58" width="5" height="11" fill="#089981"/>
<rect x="1464" y="55" width="1" height="16" fill="#f23645"/>
<rect x="1462" y="58" width="5" height="12" fill="#f23645"/>
<rect x="1472" y="60" width="1" height="10" fill="#089981"/>
<rect x="1470" y="62" width="5" height="8" fill="#089981"/>
<rect x="1479" y="59" width="1" height="10" fill="#089981"/>
<rect x="1477" y="59" width="5" height="4" fill="#089981"/>
<rect x="1487" y="59" width="1" height="7" fill="#f23645"/>
<rect x="1485" y="59" width="5" height="2" fill="#f23645"/>
<rect x="1495" y="50" width="1" height="11" fill="#089981"/>
<rect x="1493" y="50" width="5" height="11" fill="#089981"/>
<rect x="1502" y="45" width="1" height="6" fill="#089981"/>
<rect x="1500" y="47" width="5" height="4" fill="#089981"/>
</g>
<path d="M10.4 397.8 L18.1 396.4 L25.8 404.6 L33.5 405.7 L41.2 404.9 L48.9 400.0 L56.5 403.0 L64.2 404.9 L71.9 411.6 L79.6 421.3 L87.3 421.6 L95.0 424.0 L102.7 415.4 L110.4 409.7 L118.1 411.3 L125.8 410.6 L133.4 409.9 L141.1 403.7 L148.8 403.4 L156.5 394.9 L164.2 393.3 L171.9 394.5 L179.6 384.0 L187.3 375.1 L195.0 373.3 L202.7 367.3 L210.4 363.4 L218.0 361.2 L225.7 358.2 L233.4 365.4 L241.1 361.6 L248.8 368.8 L256.5 384.0 L264.2 392.7 L271.9 398.2 L279.6 394.2 L287.3 400.1 L295.0 411.3 L302.6 411.3 L310.3 400.4 L318.0 400.4 L325.7 383.7 L333.4 375.8 L341.1 368.4 L348.8 360.9 L356.5 373.3 L364.2 359.0 L371.9 350.7 L379.6 347.9 L387.2 357.2 L394.9 349.7 L402.6 371.3 L410.3 364.6 L418.0 374.3 L425.7 387.5 L433.4 378.8 L441.1 387.0 L448.8 411.3 L456.5 417.3 L464.1 413.1 L471.8 420.3 L479.5 409.4 L487.2 424.4 L494.9 438.7 L502.6 421.1 L510.3 431.6 L518.0 436.8 L525.7 408.4 L533.4 409.9 L541.1 409.9 L548.7 402.5 L556.4 399.9 L564.1 406.9 L571.8 383.8 L579.5 385.6 L587.2 383.5 L594.9 370.4 L602.6 374.1 L610.3 372.3 L618.0 384.6 L625.7 413.2 L633.3 415.9 L641.0 401.7 L648.7 406.2 L656.4 422.9 L664.1 418.1 L671.8 435.7 L679.5 431.6 L687.2 437.8 L694.9 413.7 L702.6 392.3 L710.3 420.4 L717.9 421.4 L725.6 421.9 L733.3 411.9 L741.0 419.9 L748.7 405.7 L756.4 417.4 L764.1 406.5 L771.8 415.4 L779.5 412.5 L787.2 398.0 L794.8 399.5 L802.5 406.2 L810.2 415.9 L817.9 399.8 L825.6 409.2 L833.3 403.2 L841.0 407.2 L848.7 398.7 L856.4 408.1 L864.1 384.9 L871.8 399.2 L879.4 392.5 L887.1 383.5 L894.8 378.9 L902.5 379.8 L910.2 377.8 L917.9 362.2 L925.6 373.7 L933.3 378.6 L941.0 404.0 L948.7 394.7 L956.4 392.5 L964.0 398.4 L971.7 423.4 L979.4 414.7 L987.1 419.6 L994.8 426.0 L1002.5 410.7 L1010.2 406.9 L1017.9 393.5 L1025.6 403.2 L1033.3 413.4 L1041.0 412.2 L1048.6 386.8 L1056.3 392.8 L1064.0 378.3 L1071.7 389.8 L1079.4 406.9 L1087.1 403.7 L1094.8 385.3 L1102.5 376.3 L1110.2 366.9 L1117.9 365.1 L1125.5 388.3 L1133.2 380.8 L1140.9 392.5 L1148.6 387.8 L1156.3 388.7 L1164.0 386.3 L1171.7 408.7 L1179.4 408.7 L1187.1 414.1 L1194.8 412.9 L1202.5 396.9 L1210.1 412.2 L1217.8 411.0 L1225.5 409.6 L1233.2 404.7 L1240.9 394.7 L1248.6 382.8 L1256.3 380.4 L1264.0 382.0 L1271.7 386.3 L1279.4 384.6 L1287.1 366.6 L1294.7 367.4 L1302.4 361.4 L1310.1 359.6 L1317.8 370.4 L1325.5 380.8 L1333.2 390.1 L1340.9 376.3 L1348.6 374.9 L1356.3 384.6 L1364.0 396.9 L1371.7 402.8 L1379.3 418.6 L1387.0 423.4 L1394.7 421.1 L1402.4 407.2 L1410.1 402.5 L1417.8 407.4 L1425.5 402.2 L1433.2 395.3 L1440.9 384.9 L1448.6 382.0 L1456.2 365.9 L1463.9 372.3 L1471.6 372.3 L1479.3 377.8 L1487.0 376.8 L1494.7 370.7 L1502.4 370.7" fill="none" stroke="#2196f3" stroke-width="1.3" stroke-linejoin="round"/>
<path d="M10.4 528.4 L18.1 517.5 L25.8 534.6 L33.5 542.8 L41.2 534.9 L48.9 535.7 L56.5 537.2 L64.2 544.0 L71.9 548.1 L79.6 567.2 L87.3 568.2 L95.0 554.8 L102.7 547.3 L110.4 542.1 L118.1 537.2 L125.8 537.2 L133.4 536.9 L141.1 526.0 L148.8 530.1 L156.5 533.1 L164.2 529.1 L171.9 519.7 L179.6 493.6 L187.3 481.3 L195.0 477.6 L202.7 473.0 L210.4 469.7 L218.0 465.7 L225.7 464.5 L233.4 489.1 L241.1 484.6 L248.8 495.3 L256.5 500.5 L264.2 498.6 L271.9 501.6 L279.6 489.8 L287.3 495.3 L295.0 509.0 L302.6 506.5 L310.3 502.3 L318.0 496.1 L325.7 482.6 L333.4 477.9 L341.1 472.2 L348.8 468.1 L356.5 476.4 L364.2 468.9 L371.9 467.4 L379.6 465.2 L387.2 479.9 L394.9 472.6 L402.6 491.3 L410.3 483.4 L418.0 483.7 L425.7 497.1 L433.4 492.6 L441.1 489.3 L448.8 522.9 L456.5 525.5 L464.1 527.9 L471.8 522.2 L479.5 519.9 L487.2 521.4 L494.9 544.2 L502.6 531.2 L510.3 537.5 L518.0 538.2 L525.7 529.3 L533.4 533.7 L541.1 536.4 L548.7 521.5 L556.4 516.6 L564.1 528.2 L571.8 520.3 L579.5 511.6 L587.2 516.1 L594.9 504.9 L602.6 502.1 L610.3 505.1 L618.0 525.5 L625.7 544.9 L633.3 543.1 L641.0 535.5 L648.7 532.5 L656.4 542.2 L664.1 540.0 L671.8 546.4 L679.5 536.4 L687.2 546.0 L694.9 534.0 L702.6 527.3 L710.3 555.4 L717.9 549.0 L725.6 546.7 L733.3 544.2 L741.0 550.9 L748.7 540.0 L756.4 544.6 L764.1 540.7 L771.8 540.4 L779.5 529.0 L787.2 543.4 L794.8 539.3 L802.5 544.6 L810.2 552.1 L817.9 540.1 L825.6 540.4 L833.3 538.5 L841.0 539.4 L848.7 528.1 L856.4 527.8 L864.1 515.1 L871.8 530.7 L879.4 528.5 L887.1 525.8 L894.8 510.6 L902.5 512.4 L910.2 508.8 L917.9 495.7 L925.6 501.6 L933.3 509.4 L941.0 530.4 L948.7 532.2 L956.4 527.5 L964.0 533.0 L971.7 546.4 L979.4 537.2 L987.1 538.5 L994.8 526.7 L1002.5 515.5 L1010.2 515.8 L1017.9 517.8 L1025.6 533.7 L1033.3 541.9 L1041.0 545.2 L1048.6 527.5 L1056.3 525.8 L1064.0 512.1 L1071.7 516.3 L1079.4 524.3 L1087.1 521.0 L1094.8 505.4 L1102.5 507.3 L1110.2 504.6 L1117.9 505.7 L1125.5 520.3 L1133.2 511.3 L1140.9 509.4 L1148.6 507.3 L1156.3 518.8 L1164.0 512.8 L1171.7 522.8 L1179.4 524.8 L1187.1 528.2 L1194.8 527.3 L1202.5 517.7 L1210.1 529.2 L1217.8 524.7 L1225.5 520.5 L1233.2 523.5 L1240.9 504.6 L1248.6 498.9 L1256.3 497.5 L1264.0 506.0 L1271.7 513.1 L1279.4 503.1 L1287.1 492.6 L1294.7 491.1 L1302.4 484.1 L1310.1 484.1 L1317.8 480.7 L1325.5 491.4 L1333.2 506.8 L1340.9 498.1 L1348.6 501.1 L1356.3 502.8 L1364.0 504.6 L1371.7 512.5 L1379.3 525.9 L1387.0 534.0 L1394.7 522.9 L1402.4 512.3 L1410.1 517.2 L1417.8 512.3 L1425.5 508.0 L1433.2 501.1 L1440.9 492.3 L1448.6 493.7 L1456.2 485.9 L1463.9 507.8 L1471.6 501.3 L1479.3 498.1 L1487.0 501.3 L1494.7 492.2 L1502.4 489.2" fill="none" stroke="#7e57c2" stroke-width="1.3" stroke-linejoin="round"/>
</g>
<text x="22.57" y="38" font-size="15.6" fill="#131722" stroke="#131722" stroke-width="0.2" textLength="282.03" lengthAdjust="spacingAndGlyphs">Gold US Dollars per Ounce Spot Prices, 1D</text>
<text x="312.78" y="38" font-size="15.6" fill="#131722" stroke="#131722" stroke-width="0.2" textLength="10.26" lengthAdjust="spacingAndGlyphs">O</text>
<text x="323.47" y="38" font-size="15.6" fill="#089981" stroke="#089981" stroke-width="0.2" textLength="52.72" lengthAdjust="spacingAndGlyphs">2774.79</text>
<text x="384.77" y="38" font-size="15.6" fill="#131722" stroke="#131722" stroke-width="0.2" textLength="10.86" lengthAdjust="spacingAndGlyphs">H</text>
<text x="395.17" y="38" font-size="15.6" fill="#089981" stroke="#089981" stroke-width="0.2" textLength="52.77" lengthAdjust="spacingAndGlyphs">2789.92</text>
<text x="456.88" y="38" font-size="15.6" fill="#131722" stroke="#131722" stroke-width="0.2" textLength="6.94" lengthAdjust="spacingAndGlyphs">L</text>
<text x="464.27" y="38" font-size="15.6" fill="#089981" stroke="#089981" stroke-width="0.2" textLength="52.77" lengthAdjust="spacingAndGlyphs">2770.88</text>
<text x="525.97" y="38" font-size="15.6" fill="#131722" stroke="#131722" stroke-width="0.2" textLength="8.89" lengthAdjust="spacingAndGlyphs">C</text>
<text x="535.27" y="38" font-size="15.6" fill="#089981" stroke="#089981" stroke-width="0.2" textLength="52.26" lengthAdjust="spacingAndGlyphs">2786.06</text>
<text x="597.00" y="38" font-size="15.6" fill="#089981" stroke="#089981" stroke-width="0.2" textLength="106.59" lengthAdjust="spacingAndGlyphs">+11.27 (+0.41%)</text>
<text x="21.86" y="59" font-size="15.6" fill="#131722" stroke="#131722" stroke-width="0.2" textLength="114.28" lengthAdjust="spacingAndGlyphs">MA (20, close, 0)</text>
<text x="21.86" y="80" font-size="15.6" fill="#131722" stroke="#131722" stroke-width="0.2" textLength="122.27" lengthAdjust="spacingAndGlyphs">MA (100, close, 0)</text>
<text x="21.86" y="101" font-size="15.6" fill="#131722" stroke="#131722" stroke-width="0.2" textLength="122.27" lengthAdjust="spacingAndGlyphs">MA (200, close, 0)</text>
<text x="22.07" y="362" font-size="15.6" fill="#131722" stroke="#131722" stroke-width="0.2" textLength="107.66" lengthAdjust="spacingAndGlyphs">Mom (10, close)</text>
<text x="139.19" y="362" font-size="15.6" fill="#2196f3" stroke="#2196f3" stroke-width="0.2" textLength="44.48" lengthAdjust="spacingAndGlyphs">112.20</text>
<text x="22.14" y="475" font-size="15.6" fill="#131722" stroke="#131722" stroke-width="0.2" textLength="52.74" lengthAdjust="spacingAndGlyphs">RSI (14)</text>
<text x="82.82" y="475" font-size="15.6" fill="#7e57c2" stroke="#7e57c2" stroke-width="0.2" textLength="37.84" lengthAdjust="spacingAndGlyphs">73.16</text>
<text x="1596.25" y="112" font-size="15.6" fill="#131722" stroke="#131722" stroke-width="0.2" textLength="53.63" lengthAdjust="spacingAndGlyphs">2600.00</text>
<text x="1596.25" y="176" font-size="15.6" fill="#131722" stroke="#131722" stroke-width="0.2" textLength="53.63" lengthAdjust="spacingAndGlyphs">2400.00</text>
<text x="1596.25" y="240" font-size="15.6" fill="#131722" stroke="#131722" stroke-width="0.2" textLength="53.63" lengthAdjust="spacingAndGlyphs">2200.00</text>
<text x="1596.25" y="304" font-size="15.6" fill="#131722" stroke="#131722" stroke-width="0.2" textLength="53.63" lengthAdjust="spacingAndGlyphs">2000.00</text>
<text x="1596.25" y="348" font-size="15.6" fill="#131722" stroke="#131722" stroke-width="0.2" textLength="45.63" lengthAdjust="spacingAndGlyphs">200.00</text>
<text x="1596.39" y="413" font-size="15.6" fill="#131722" stroke="#131722" stroke-width="0.2" textLength="30.21" lengthAdjust="spacingAndGlyphs">0.00</text>
<text x="1596.34" y="480" font-size="15.6" fill="#131722" stroke="#131722" stroke-width="0.2" textLength="38.05" lengthAdjust="spacingAndGlyphs">80.00</text>
<text x="1596.23" y="523" font-size="15.6" fill="#131722" stroke="#131722" stroke-width="0.2" textLength="38.17" lengthAdjust="spacingAndGlyphs">60.00</text>
<text x="1596.65" y="566" font-size="15.6" fill="#131722" stroke="#131722" stroke-width="0.2" textLength="37.74" lengthAdjust="spacingAndGlyphs">40.00</text>
<path d="M1587 37 H1655 a2 2 0 0 1 2 2 V56 a2 2 0 0 1 -2 2 H1587 Z" fill="#089981"/>
<text x="1596.05" y="53" font-size="15.6" fill="#fff" stroke="#fff" stroke-width="0.2" textLength="53.91" lengthAdjust="spacingAndGlyphs">2786.06</text>
<path d="M1587 361 H1646 a2 2 0 0 1 2 2 V380 a2 2 0 0 1 -2 2 H1587 Z" fill="#2196f3"/>
<text x="1596.87" y="377" font-size="15.6" fill="#fff" stroke="#fff" stroke-width="0.2" textLength="45.31" lengthAdjust="spacingAndGlyphs">112.20</text>
<path d="M1587 479 H1639 a2 2 0 0 1 2 2 V498 a2 2 0 0 1 -2 2 H1587 Z" fill="#7e57c2"/>
<text x="1597.24" y="495" font-size="15.6" fill="#fff" stroke="#fff" stroke-width="0.2" textLength="37.22" lengthAdjust="spacingAndGlyphs">73.16</text>
<clipPath id="ct"><rect x="13" y="595" width="1649" height="34"/></clipPath>
<g clip-path="url(#ct)">
<text x="4.81" y="618" font-size="15.6" fill="#131722" stroke="#131722" stroke-width="0.2" textLength="26.40" lengthAdjust="spacingAndGlyphs" font-weight="bold">Feb</text>
<text x="165.79" y="618" font-size="15.6" fill="#131722" stroke="#131722" stroke-width="0.2" textLength="26.73" lengthAdjust="spacingAndGlyphs" font-weight="bold">Mar</text>
<text x="321.45" y="618" font-size="15.6" fill="#131722" stroke="#131722" stroke-width="0.2" textLength="24.37" lengthAdjust="spacingAndGlyphs" font-weight="bold">Apr</text>
<text x="488.34" y="618" font-size="15.6" fill="#131722" stroke="#131722" stroke-width="0.2" textLength="27.83" lengthAdjust="spacingAndGlyphs" font-weight="bold">May</text>
<text x="666.58" y="618" font-size="15.6" fill="#131722" stroke="#131722" stroke-width="0.2" textLength="26.24" lengthAdjust="spacingAndGlyphs" font-weight="bold">Jun</text>
<text x="822.87" y="618" font-size="15.6" fill="#131722" stroke="#131722" stroke-width="0.2" textLength="21.58" lengthAdjust="spacingAndGlyphs" font-weight="bold">Jul</text>
<text x="997.26" y="618" font-size="15.6" fill="#131722" stroke="#131722" stroke-width="0.2" textLength="26.87" lengthAdjust="spacingAndGlyphs" font-weight="bold">Aug</text>
<text x="1166.50" y="618" font-size="15.6" fill="#131722" stroke="#131722" stroke-width="0.2" textLength="25.78" lengthAdjust="spacingAndGlyphs" font-weight="bold">Sep</text>
<text x="1328.40" y="618" font-size="15.6" fill="#131722" stroke="#131722" stroke-width="0.2" textLength="24.58" lengthAdjust="spacingAndGlyphs" font-weight="bold">Oct</text>
<text x="1504.05" y="618" font-size="15.6" fill="#131722" stroke="#131722" stroke-width="0.2" textLength="26.81" lengthAdjust="spacingAndGlyphs" font-weight="bold">Nov</text>
</g>
<g fill="#131722"><path d="M13 646 H23 V658 H18 V651 H13 Z"/><circle cx="26.7" cy="648.3" r="2.5"/><path d="M32.3 646 H37.6 L32.6 658 H27.3 Z"/></g>
<text x="42.05" y="658" font-size="15.8" fill="#131722" stroke="#131722" stroke-width="0.2" textLength="87.52" lengthAdjust="spacingAndGlyphs">TradingView</text>
</svg>
</body></html>
